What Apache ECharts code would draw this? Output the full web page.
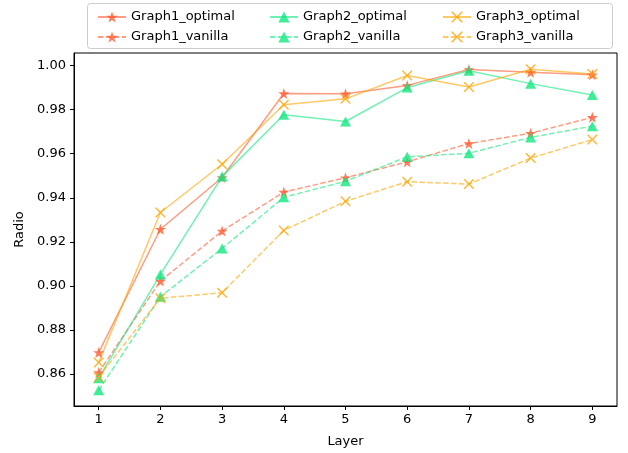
<!DOCTYPE html>
<html>
<head>
<meta charset="utf-8">
<script src="https://cdn.jsdelivr.net/npm/echarts@6/dist/echarts.min.js"></script>
<style>html,body{margin:0;padding:0;background:#fff;}#c{width:628px;height:453px;}</style>
</head>
<body>
<div id="c"></div>
<script>
const layers = [1, 2, 3, 4, 5, 6, 7, 8, 9];
const yTicks = [0.86, 0.88, 0.90, 0.92, 0.94, 0.96, 0.98, 1.00];
const graph1Optimal = [0.8698, 0.9257, 0.9492, 0.9873, 0.9872, 0.9910, 0.9982, 0.9970, 0.9958];
const graph1Vanilla = [0.8607, 0.9022, 0.9249, 0.9426, 0.9491, 0.9563, 0.9646, 0.9693, 0.9765];
const graph2Optimal = [0.8581, 0.9052, 0.9496, 0.9777, 0.9746, 0.9900, 0.9976, 0.9918, 0.9866];
const graph2Vanilla = [0.8526, 0.8951, 0.9170, 0.9402, 0.9475, 0.9586, 0.9602, 0.9674, 0.9725];
const graph3Optimal = [0.8652, 0.9333, 0.9552, 0.9822, 0.9849, 0.9955, 0.9903, 0.9983, 0.9962];
const graph3Vanilla = [0.8586, 0.8944, 0.8969, 0.9252, 0.9384, 0.9473, 0.9462, 0.9580, 0.9664];

const STAR = 'path://M50,0 L61.8,35.1 L97.6,34.5 L69,56.2 L79.4,90.5 L50,70 L20.6,90.5 L31,56.2 L2.4,34.5 L38.2,35.1 Z';
const XMARK = 'path://M0,0 L1,0 L5,4 L9,0 L10,0 L10,1 L6,5 L10,9 L10,10 L9,10 L5,6 L1,10 L0,10 L0,9 L4,5 L0,1 Z';
const FONT = 'DejaVu Sans';

function mk(name, vals, color, symbol, size, dashed) {
  return {
    name: name, type: 'line',
    data: layers.map((l, i) => [l, vals[i]]),
    symbol: symbol, symbolSize: size,
    itemStyle: { color: color, opacity: 0.8 },
    lineStyle: { color: color, width: 1.5, opacity: 0.6, type: dashed ? [5.5, 2.4] : 'solid' },
    emphasis: { disabled: true },
    animation: false
  };
}
const C1 = '#FF5A30', C2 = '#12E87F', C3 = '#FFA500';
const series = [
  mk('Graph1_optimal', graph1Optimal, C1, STAR, 11, false),
  mk('Graph1_vanilla', graph1Vanilla, C1, STAR, 11, true),
  mk('Graph2_optimal', graph2Optimal, C2, 'triangle', [11, 10], false),
  mk('Graph2_vanilla', graph2Vanilla, C2, 'triangle', [11, 10], true),
  mk('Graph3_optimal', graph3Optimal, C3, XMARK, 10, false),
  mk('Graph3_vanilla', graph3Vanilla, C3, XMARK, 10, true)
];

function lg(left, names) {
  return {
    orient: 'vertical', left: left, top: 5, data: names,
    itemWidth: 28, itemHeight: 14, itemGap: 6,
    textStyle: { fontFamily: FONT, fontSize: 13, color: '#000', lineHeight: 14 },
    selectedMode: false
  };
}

const chart = echarts.init(document.getElementById('c'), null, { renderer: 'canvas' });
chart.setOption({
  animation: false,
  backgroundColor: '#fff',
  grid: { left: 74, top: 53, right: 11, bottom: 43, show: true, borderColor: '#000', borderWidth: 1, backgroundColor: 'transparent' },
  legend: [
    lg(92, ['Graph1_optimal', 'Graph1_vanilla']),
    lg(264, ['Graph2_optimal', 'Graph2_vanilla']),
    lg(437, ['Graph3_optimal', 'Graph3_vanilla'])
  ],
  graphic: [{
    type: 'rect', left: 87, top: 3, shape: { width: 525, height: 45, r: 3 },
    style: { fill: 'rgba(255,255,255,0.8)', stroke: '#cccccc', lineWidth: 1 }, z: -1
  }],
  xAxis: {
    type: 'value', min: 0.6, max: 9.4,
    name: 'Layer', nameLocation: 'middle', nameGap: 29,
    nameTextStyle: { fontFamily: FONT, fontSize: 13, color: '#000' },
    axisLine: { lineStyle: { color: '#000', width: 1 } },
    axisTick: { show: true, length: 4, customValues: layers, lineStyle: { color: '#000' } },
    axisLabel: { customValues: layers, fontFamily: FONT, fontSize: 13, color: '#000', margin: 7 },
    splitLine: { show: false }
  },
  yAxis: {
    type: 'value', min: 0.8455, max: 1.0057,
    name: 'Radio', nameLocation: 'middle', nameGap: 43, nameRotate: 90,
    nameTextStyle: { fontFamily: FONT, fontSize: 13, color: '#000' },
    axisLine: { show: true, lineStyle: { color: '#000', width: 1 } },
    axisTick: { show: true, length: 4, customValues: yTicks, lineStyle: { color: '#000' } },
    axisLabel: { customValues: yTicks, fontFamily: FONT, fontSize: 13, color: '#000', margin: 8,
      formatter: v => v.toFixed(2) },
    splitLine: { show: false }
  },
  series: series
});
</script>
</body>
</html>
